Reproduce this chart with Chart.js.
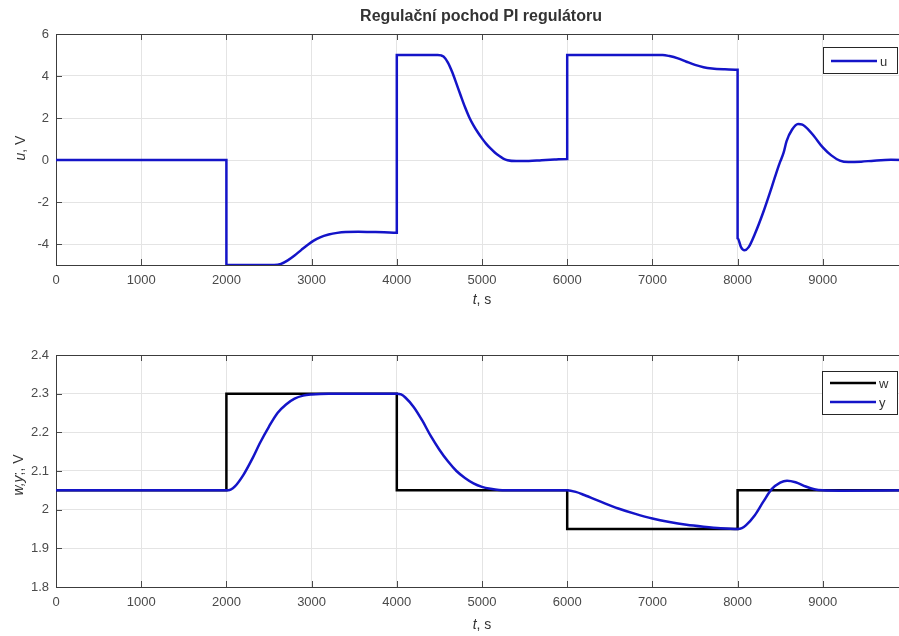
<!DOCTYPE html>
<html>
<head>
<meta charset="utf-8">
<script src="https://cdn.jsdelivr.net/npm/chart.js@4.4.1/dist/chart.umd.min.js"></script>
<style>
  html, body { margin: 0; padding: 0; background: #fff; overflow: hidden; width: 899px; height: 636px; }
  .panel { position: absolute; left: 0; width: 920px; }
  #top { top: 0; height: 320px; }
  #bottom { top: 320px; height: 316px; }
  canvas { display: block; }
</style>
</head>
<body>
<div class="panel" id="top"><canvas id="uChart" width="920" height="320"></canvas></div>
<div class="panel" id="bottom"><canvas id="wyChart" width="920" height="316"></canvas></div>
<script>
// axis ticks
const timeTicks = [0, 1000, 2000, 3000, 4000, 5000, 6000, 7000, 8000, 9000];
const uTicks = [-4, -2, 0, 2, 4, 6];
const wyTicks = [1.8, 1.9, 2, 2.1, 2.2, 2.3, 2.4];

// controller output u [V]
const uTime = [0, 2000, 2000, 2560, 2640, 2720, 2800, 2880, 2960, 3020, 3100, 3200, 3300, 3400, 3550, 3700, 3850, 4000,
  4000, 4480, 4520, 4550, 4600, 4650, 4700, 4750, 4800, 4850, 4900, 4950, 5000, 5050, 5100, 5150, 5200, 5250, 5300, 5400, 5550, 5700, 5850, 6000,
  6000, 7120, 7200, 7300, 7400, 7500, 7600, 7700, 7850, 8000,
  8000, 8040, 8080, 8130, 8200, 8300, 8400, 8480, 8500, 8540, 8575, 8640, 8710, 8760, 8830, 8900, 9000, 9100, 9200, 9300, 9450, 9600, 9800, 10000];
const uValue = [0, 0, -5, -5, -4.95, -4.78, -4.55, -4.28, -4.02, -3.85, -3.68, -3.55, -3.47, -3.43, -3.42, -3.43, -3.44, -3.46,
  5, 5, 4.98, 4.92, 4.64, 4.19, 3.64, 3.07, 2.52, 2.04, 1.65, 1.32, 1.03, 0.77, 0.55, 0.36, 0.2, 0.07, -0.01, -0.05, -0.05, -0.01, 0.02, 0.05,
  5, 5, 4.95, 4.84, 4.68, 4.53, 4.42, 4.36, 4.32, 4.3,
  -3.72, -4.15, -4.3, -4.15, -3.55, -2.5, -1.3, -0.3, -0.08, 0.35, 0.9, 1.45, 1.71, 1.68, 1.45, 1.12, 0.6, 0.22, -0.03, -0.1, -0.08, -0.03, 0.01, 0];

// setpoint w [V]
const wTime = [0, 2000, 2000, 4000, 4000, 6000, 6000, 8000, 8000, 10000];
const wValue = [2.05, 2.05, 2.3, 2.3, 2.05, 2.05, 1.95, 1.95, 2.05, 2.05];

// process output y [V]
const yTime = [0, 2000, 2050, 2100, 2200, 2300, 2400, 2500, 2600, 2700, 2800, 2900, 3000, 3200, 4000,
  4050, 4100, 4200, 4300, 4400, 4500, 4600, 4700, 4800, 4900, 5000, 5100, 5200, 5400, 6000,
  6100, 6200, 6400, 6600, 6800, 7000, 7200, 7400, 7600, 7800, 8000,
  8050, 8100, 8200, 8300, 8400, 8500, 8580, 8680, 8800, 8900, 9000, 9200, 10000];
const yValue = [2.05, 2.05, 2.052, 2.06, 2.09, 2.13, 2.175, 2.215, 2.25, 2.272, 2.287, 2.295, 2.298, 2.3, 2.3,
  2.298, 2.29, 2.265, 2.23, 2.19, 2.155, 2.125, 2.1, 2.082, 2.068, 2.059, 2.054, 2.051, 2.05, 2.05,
  2.046, 2.038, 2.02, 2.003, 1.989, 1.977, 1.968, 1.961, 1.956, 1.952, 1.95,
  1.952, 1.96, 1.985, 2.02, 2.053, 2.07, 2.075, 2.071, 2.06, 2.053, 2.05, 2.049, 2.05];

const FONT = '"Liberation Sans", Arial, sans-serif';
const BLUE = '#1414c8';
const BLACK = '#000000';

function pts(xs, ys) {
  return xs.map((x, i) => ({ x: x, y: ys[i] }));
}

function drawRuns(ctx, runs, x, y, size, rotate) {
  ctx.save();
  ctx.translate(x, y);
  if (rotate) ctx.rotate(-Math.PI / 2);
  const fontOf = r => (r.italic ? 'italic ' : '') + (r.bold ? 'bold ' : '') + size + 'px ' + FONT;
  let total = 0;
  runs.forEach(r => { ctx.font = fontOf(r); total += ctx.measureText(r.text).width; });
  let cx = -total / 2;
  ctx.textAlign = 'left';
  ctx.textBaseline = 'middle';
  ctx.fillStyle = '#333';
  runs.forEach(r => {
    ctx.font = fontOf(r);
    ctx.fillText(r.text, cx, 0);
    cx += ctx.measureText(r.text).width;
  });
  ctx.restore();
}

// box around the axes with inward tick marks
const framePlugin = {
  id: 'frame',
  beforeDatasetsDraw(chart) {
    const { ctx, chartArea: a, scales } = chart;
    ctx.save();
    ctx.strokeStyle = '#4a4a4a';
    ctx.lineWidth = 1;
    ctx.beginPath();
    scales.x.ticks.forEach(t => {
      const px = Math.round(scales.x.getPixelForValue(t.value)) + 0.5;
      ctx.moveTo(px, a.bottom); ctx.lineTo(px, a.bottom - 6);
      ctx.moveTo(px, a.top); ctx.lineTo(px, a.top + 6);
    });
    scales.y.ticks.forEach(t => {
      const py = Math.round(scales.y.getPixelForValue(t.value)) + 0.5;
      ctx.moveTo(a.left, py); ctx.lineTo(a.left + 6, py);
      ctx.moveTo(a.right, py); ctx.lineTo(a.right - 6, py);
    });
    ctx.stroke();
    ctx.strokeStyle = '#3c3c3c';
    ctx.strokeRect(Math.round(a.left) + 0.5, Math.round(a.top) + 0.5, Math.round(a.right - a.left), Math.round(a.bottom - a.top));
    ctx.restore();
  }
};

// axis captions and boxed legend
const captionPlugin = {
  id: 'captions',
  afterDraw(chart, args, opts) {
    const { ctx, chartArea: a } = chart;
    if (opts.title) drawRuns(ctx, [{ text: opts.title, bold: true }], opts.titleX, opts.titleY, 16, false);
    drawRuns(ctx, opts.xLabel, (a.left + a.right) / 2, opts.xLabelY, 14, false);
    drawRuns(ctx, opts.yLabel, opts.yLabelX, opts.yLabelY, 14, true);

    const lg = opts.legend;
    ctx.save();
    ctx.fillStyle = '#fff';
    ctx.strokeStyle = '#262626';
    ctx.lineWidth = 1;
    ctx.fillRect(lg.left, lg.top, lg.width, lg.height);
    ctx.strokeRect(lg.left + 0.5, lg.top + 0.5, lg.width, lg.height);
    ctx.font = '13px ' + FONT;
    ctx.textBaseline = 'middle';
    ctx.textAlign = 'left';
    lg.items.forEach((it, i) => {
      const ly = lg.top + lg.firstRow + i * lg.rowStep;
      ctx.strokeStyle = it.color;
      ctx.lineWidth = 2.5;
      ctx.beginPath();
      ctx.moveTo(lg.left + 8, ly);
      ctx.lineTo(lg.left + 54, ly);
      ctx.stroke();
      ctx.fillStyle = '#333';
      ctx.fillText(it.label, lg.left + 57, ly + 1);
    });
    ctx.restore();
  }
};

function axes(yTickList, yMin, yMax, xHeight) {
  return {
    x: {
      type: 'linear', min: 0, max: 10000,
      afterBuildTicks: s => { s.ticks = timeTicks.map(v => ({ value: v })); },
      afterFit: s => { s.height = xHeight; },
      grid: { color: '#e4e4e4', drawTicks: false },
      border: { display: false },
      ticks: { padding: 8, color: '#4a4a4a', font: { family: FONT, size: 13 }, maxRotation: 0, autoSkip: false,
        callback: v => String(v) },
    },
    y: {
      type: 'linear', min: yMin, max: yMax,
      afterBuildTicks: s => { s.ticks = yTickList.map(v => ({ value: v })); },
      afterFit: s => { s.width = 56; },
      grid: { color: '#e4e4e4', drawTicks: false },
      border: { display: false },
      ticks: { padding: 7, color: '#4a4a4a', font: { family: FONT, size: 13 }, autoSkip: false,
        callback: v => String(v) },
    }
  };
}

const lineStyle = { borderWidth: 2.5, pointRadius: 0, cubicInterpolationMode: 'monotone', fill: false };

new Chart(document.getElementById('uChart'), {
  type: 'line',
  data: {
    datasets: [Object.assign({ label: 'u', data: pts(uTime, uValue), borderColor: BLUE }, lineStyle)]
  },
  options: {
    responsive: false, maintainAspectRatio: false, animation: false,
    layout: { padding: { top: 34, right: 12, left: 0, bottom: 0 } },
    scales: axes(uTicks, -5, 6, 55),
    plugins: {
      legend: { display: false }, tooltip: { enabled: false },
      captions: {
        title: 'Regulační pochod PI regulátoru', titleX: 481, titleY: 17,
        xLabel: [{ text: 't', italic: true }, { text: ', s' }], xLabelY: 300,
        yLabel: [{ text: 'u', italic: true }, { text: ', V' }], yLabelX: 21, yLabelY: 148,
        legend: { left: 823, top: 47, width: 74, height: 26, firstRow: 14, rowStep: 19,
          items: [{ label: 'u', color: BLUE }] }
      }
    }
  },
  plugins: [framePlugin, captionPlugin]
});

new Chart(document.getElementById('wyChart'), {
  type: 'line',
  data: {
    datasets: [
      Object.assign({ label: 'w', data: pts(wTime, wValue), borderColor: BLACK, order: 1 }, lineStyle),
      Object.assign({ label: 'y', data: pts(yTime, yValue), borderColor: BLUE, order: 0 }, lineStyle)
    ]
  },
  options: {
    responsive: false, maintainAspectRatio: false, animation: false,
    layout: { padding: { top: 35, right: 12, left: 0, bottom: 0 } },
    scales: axes(wyTicks, 1.8, 2.4, 49),
    plugins: {
      legend: { display: false }, tooltip: { enabled: false },
      captions: {
        xLabel: [{ text: 't', italic: true }, { text: ', s' }], xLabelY: 305,
        yLabel: [{ text: 'w,y', italic: true }, { text: ';, V' }], yLabelX: 19, yLabelY: 155,
        legend: { left: 822, top: 51, width: 75, height: 43, firstRow: 12, rowStep: 19,
          items: [{ label: 'w', color: BLACK }, { label: 'y', color: BLUE }] }
      }
    }
  },
  plugins: [framePlugin, captionPlugin]
});
</script>
</body>
</html>
